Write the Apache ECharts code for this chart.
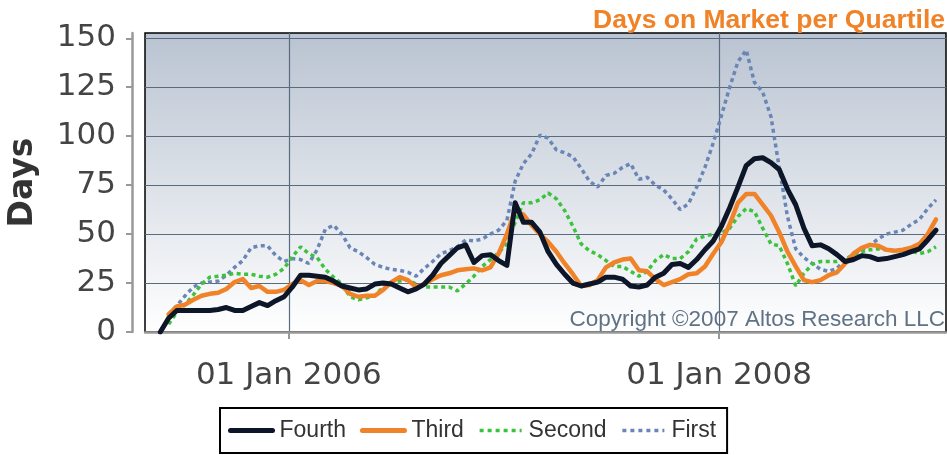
<!DOCTYPE html>
<html>
<head>
<meta charset="utf-8">
<script src="https://cdn.jsdelivr.net/npm/echarts@6/dist/echarts.min.js"></script>
<style>
  html, body { margin: 0; padding: 0; background: #fff; }
  #main { width: 947px; height: 455px; }
</style>
</head>
<body>
<div id="main"></div>
<script>
var dates = [
  '2005-05-28','2005-06-11','2005-06-25','2005-07-09','2005-07-23','2005-08-06','2005-08-20','2005-09-03','2005-09-17','2005-10-01',
  '2005-10-15','2005-10-29','2005-11-12','2005-11-26','2005-12-10','2005-12-24','2006-01-07','2006-01-21','2006-02-04','2006-02-18',
  '2006-03-04','2006-03-18','2006-04-01','2006-04-15','2006-04-29','2006-05-13','2006-05-27','2006-06-10','2006-06-24','2006-07-08',
  '2006-07-22','2006-08-05','2006-08-19','2006-09-02','2006-09-16','2006-09-30','2006-10-14','2006-10-28','2006-11-11','2006-11-25',
  '2006-12-09','2006-12-23','2007-01-06','2007-01-20','2007-02-03','2007-02-17','2007-03-03','2007-03-17','2007-03-31','2007-04-14',
  '2007-04-28','2007-05-12','2007-05-26','2007-06-09','2007-06-23','2007-07-07','2007-07-21','2007-08-04','2007-08-18','2007-09-01',
  '2007-09-15','2007-09-29','2007-10-13','2007-10-27','2007-11-10','2007-11-24','2007-12-08','2007-12-22','2008-01-05','2008-01-19',
  '2008-02-02','2008-02-16','2008-03-01','2008-03-15','2008-03-29','2008-04-12','2008-04-26','2008-05-10','2008-05-24','2008-06-07',
  '2008-06-21','2008-07-05','2008-07-19','2008-08-02','2008-08-16','2008-08-30','2008-09-13','2008-09-27','2008-10-11','2008-10-25',
  '2008-11-08','2008-11-22','2008-12-06','2008-12-20','2009-01-03'
];

var fourth = [
  0, 7, 11, 11, 11, 11, 11, 11.5, 12.5, 11,
  11, 13, 15, 13.5, 16, 18, 23, 29, 29, 28.5,
  28, 26, 23.5, 22.5, 21.5, 22, 24.5, 25, 24.5, 22.5,
  20.5, 22, 24.5, 29, 35, 39, 43, 44.5, 35.5, 39,
  39.5, 36.5, 34, 66, 56, 56, 51, 41, 34.5, 29.5,
  25, 23.5, 24.5, 25.5, 28, 28, 27, 23.5, 23, 24,
  28, 30, 34.5, 35, 33, 37, 42, 46.5, 54, 63.5,
  74, 85, 88.5, 89, 86.5, 83, 73, 65, 53, 44,
  44.5, 42.5, 39.5, 36, 37, 39, 38.5, 37, 37.5, 38.5,
  39.5, 41, 42.5, 47, 52
];
var third = [
  null, 9, 13, 14, 16.5, 18.5, 19.5, 20, 22, 25.5,
  27, 22.5, 23.5, 20.5, 20.5, 21.5, 24.5, 26.5, 24, 26,
  26, 25, 23.5, 19.5, 18, 18.5, 18.5, 21.5, 25.5, 28,
  26.5, 23, 24.5, 27, 29, 30, 31.5, 32, 32.5, 31.5,
  33, 40, 50, 62, 60, 54.5, 50, 46, 41, 35,
  29.5, 23.5, 24, 26.5, 33, 35.5, 37, 37.5, 31.5, 31,
  27, 24, 25.5, 27, 29.5, 30, 33.5, 40, 46, 55,
  66, 70.5, 70.5, 65, 59.5, 51, 41, 33.5, 26.5, 25.5,
  26.5, 29, 30.5, 35, 40, 43, 44.5, 44, 42, 41.5,
  42, 43, 45, 50, 57.5
];
var second = [
  null, 4, 10, 14, 19, 24.5, 28, 28.5, 29, 30,
  29.5, 29.5, 28.5, 28, 29.5, 32.5, 38.5, 43.5, 40, 38,
  32, 28, 24.5, 18, 16.5, 17.5, 18.5, 23, 25.5, 26,
  26.5, 24.5, 23, 23, 23, 23, 21, 24.5, 28.5, 33.5,
  37, 40.5, 45, 56, 66, 66, 67.5, 71, 68, 62,
  54, 45, 41.5, 39.5, 36.5, 33.5, 33.5, 31, 28.5, 31,
  36.5, 39.5, 37.5, 37.5, 41, 47.5, 49, 50, 50.5, 53,
  59, 63, 61.5, 53, 45, 44, 35, 23.5, 30, 34.5,
  36, 36, 36, 37, 39.5, 41, 42, 42.5, 42, 41.5,
  41.5, 41.5, 40, 41, 43.5
];
var first = [
  null, 9, 13.5, 18.5, 23, 25, 25.5, 26, 29, 33,
  36.5, 43, 44, 44, 39, 36, 37.5, 37, 35, 42,
  52.5, 54.5, 50, 43, 41, 38, 34.5, 33, 32, 31.5,
  30.5, 28.5, 32.5, 36, 40, 41.5, 43.5, 47, 46.5, 47.5,
  50, 52, 57, 77, 86, 91, 100.5, 99, 93, 91.5,
  89.5, 83.5, 77, 74, 80, 81, 84, 86, 78, 79,
  75, 72.5, 68, 62.5, 65.5, 74, 84, 96.5, 110.5, 125,
  138, 144, 127.5, 122.5, 110, 84, 59, 42.5, 38, 35,
  32, 31, 32.5, 37, 39.5, 42, 44.5, 47.5, 50, 51,
  52, 55, 57.5, 63, 67.5
];

var yTicks = [0, 25, 50, 75, 100, 125, 150];
var xTicks = ['2006-01-01', '2008-01-01'];
var monthNames = ['Jan','Feb','Mar','Apr','May','Jun','Jul','Aug','Sep','Oct','Nov','Dec'];

function toTime(s) {
  var p = s.split('-');
  return new Date(+p[0], +p[1] - 1, +p[2]).getTime();
}
function pairs(vals) {
  return dates.map(function (d, i) { return [toTime(d), vals[i]]; });
}

var chart = echarts.init(document.getElementById('main'));
var font = "'DejaVu Sans', sans-serif";
var arial = "'Liberation Sans', Arial, sans-serif";
var gridColor = '#5a6b7d';
var hideDot = { opacity: 0 };

var option = {
  animation: false,
  title: {
    text: 'Days on Market per Quartile',
    right: 2,
    top: 7,
    padding: 0,
    textStyle: { color: '#f08228', fontSize: 26.5, fontWeight: 'bold', fontFamily: arial }
  },
  legend: {
    left: 220,
    top: 408,
    itemWidth: 42,
    itemHeight: 14,
    itemGap: 14,
    padding: [11, 11, 11, 8],
    borderColor: '#000',
    borderWidth: 2,
    backgroundColor: '#fff',
    textStyle: { fontSize: 23, color: '#333', fontFamily: arial, padding: [0, 0, 0, 2] },
    data: [
      { name: 'Fourth', itemStyle: hideDot, lineStyle: { width: 5, cap: 'round' } },
      { name: 'Third', itemStyle: hideDot, lineStyle: { width: 5, cap: 'round' } },
      { name: 'Second', itemStyle: hideDot, lineStyle: { width: 3.5, type: [4, 4] } },
      { name: 'First', itemStyle: hideDot, lineStyle: { width: 3.5, type: [4, 4] } }
    ]
  },
  graphic: [{
    type: 'text',
    right: 2,
    top: 308,
    style: { text: 'Copyright \u00a92007 Altos Research LLC', fontSize: 22.5, fill: '#607286', fontFamily: arial }
  }],
  grid: {
    left: 145,
    right: 1,
    top: 33,
    bottom: 123,
    outerBoundsMode: 'none',
    containLabel: false,
    show: true,
    borderColor: '#000',
    borderWidth: 1.5,
    backgroundColor: new echarts.graphic.LinearGradient(0, 0, 0, 1, [
      { offset: 0, color: '#b9c3d1' },
      { offset: 1, color: '#ffffff' }
    ])
  },
  xAxis: {
    type: 'value',
    min: toTime('2005-05-02'),
    max: toTime('2009-01-20'),
    offset: 13,
    axisLine: { lineStyle: { color: '#999', width: 2.5 } },
    axisTick: { show: true, length: 7, lineStyle: { color: '#999', width: 2 }, customValues: xTicks.map(toTime) },
    axisLabel: {
      customValues: xTicks.map(toTime),
      fontSize: 31,
      color: '#444',
      fontFamily: font,
      margin: 15,
      formatter: function (v) {
        var d = new Date(v);
        var dd = d.getDate() < 10 ? '0' + d.getDate() : '' + d.getDate();
        return dd + ' ' + monthNames[d.getMonth()] + ' ' + d.getFullYear();
      }
    },
    splitLine: { show: true, lineStyle: { color: gridColor, width: 1.2 } }
  },
  yAxis: {
    type: 'value',
    min: 0,
    max: 152.7,
    offset: 13,
    name: 'Days',
    nameLocation: 'middle',
    nameRotate: 90,
    nameGap: 92,
    nameTextStyle: { fontSize: 33, fontWeight: 'bold', color: '#333', fontFamily: font },
    axisLine: { show: true, lineStyle: { color: '#999', width: 2.5 } },
    axisTick: { show: true, length: 6, lineStyle: { color: '#999', width: 2 }, customValues: yTicks },
    axisLabel: { customValues: yTicks, fontSize: 31, color: '#444', fontFamily: font, margin: 16 },
    splitLine: { show: true, lineStyle: { color: gridColor, width: 1.2 } }
  },
  series: [
    {
      name: 'Fourth', type: 'line', showSymbol: false, symbol: 'none', z: 6,
      data: pairs(fourth),
      itemStyle: { color: '#0c1628' },
      lineStyle: { color: '#0c1628', width: 5, cap: 'round', join: 'round' }
    },
    {
      name: 'Third', type: 'line', showSymbol: false, symbol: 'none', z: 5,
      data: pairs(third),
      itemStyle: { color: '#f08228' },
      lineStyle: { color: '#f08228', width: 4.5, cap: 'round', join: 'round' }
    },
    {
      name: 'Second', type: 'line', showSymbol: false, symbol: 'none', z: 4,
      data: pairs(second),
      itemStyle: { color: '#3cc23c' },
      lineStyle: { color: '#3cc23c', width: 3.5, type: [4, 3.5] }
    },
    {
      name: 'First', type: 'line', showSymbol: false, symbol: 'none', z: 3,
      data: pairs(first),
      itemStyle: { color: '#6a86b6' },
      lineStyle: { color: '#6a86b6', width: 3.5, type: [4, 3.5] }
    }
  ]
};

option && chart.setOption(option);

window.addEventListener('resize', function () {
  chart.resize();
});
</script>
</body>
</html>
